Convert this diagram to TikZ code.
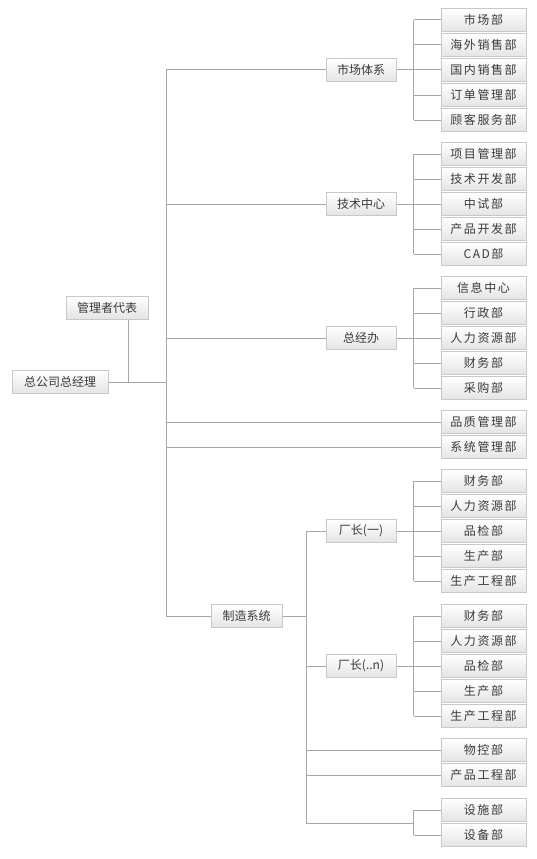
\documentclass[tikz,border=0pt]{standalone}
\usepackage{fontspec}
\newfontfamily\cjk{Noto Sans CJK SC}
\newfontfamily\cjkwide[LetterSpace=13]{Noto Sans CJK SC}
\usetikzlibrary{calc}
\definecolor{boxborder}{HTML}{C8C8C8}
\definecolor{boxbot}{HTML}{E4E4E4}
\definecolor{txt}{HTML}{3A3A3A}
\definecolor{lncol}{HTML}{A6A6A6}
\tikzset{
  box/.style={draw=boxborder, line width=1pt, top color=white, bottom color=boxbot,
    minimum height=23pt, inner sep=0pt, text=txt, font=\fontsize{12pt}{12pt}\cjk},
  leaf/.style={box, minimum width=85pt, font=\fontsize{12pt}{12pt}\cjkwide},
  mid/.style={box, minimum width=70pt},
  ln/.style={draw=lncol, line width=1pt}
}
\begin{document}
\begin{tikzpicture}[x=1pt,y=-1pt]
\useasboundingbox (0,0) rectangle (536,859);
% left
\node[box, minimum width=96pt] (ceo) at (60,382) {总公司总经理};
\node[box, minimum width=82pt] (rep) at (107,307.5) {管理者代表};
% middle
\node[mid] (sc) at (361,70) {市场体系};
\node[mid] (js) at (361,204) {技术中心};
\node[mid] (zj) at (361,338) {总经办};
\node[box, minimum width=71pt] (zz) at (246.5,616) {制造系统};
\node[mid] (c1) at (361,531) {厂长(一)};
\node[mid] (cn) at (361,666) {厂长(..n)};
% leaves
\node[leaf] (a1) at (483.5,20) {市场部};
\node[leaf] (a2) at (483.5,45) {海外销售部};
\node[leaf] (a3) at (483.5,70) {国内销售部};
\node[leaf] (a4) at (483.5,95) {订单管理部};
\node[leaf] (a5) at (483.5,120) {顾客服务部};
\node[leaf] (b1) at (483.5,154) {项目管理部};
\node[leaf] (b2) at (483.5,179) {技术开发部};
\node[leaf] (b3) at (483.5,204) {中试部};
\node[leaf] (b4) at (483.5,229) {产品开发部};
\node[leaf] (b5) at (483.5,254) {CAD部};
\node[leaf] (d1) at (483.5,288) {信息中心};
\node[leaf] (d2) at (483.5,313) {行政部};
\node[leaf] (d3) at (483.5,338) {人力资源部};
\node[leaf] (d4) at (483.5,363) {财务部};
\node[leaf] (d5) at (483.5,388) {采购部};
\node[leaf] (q1) at (483.5,422) {品质管理部};
\node[leaf] (q2) at (483.5,447) {系统管理部};
\node[leaf] (e1) at (483.5,481) {财务部};
\node[leaf] (e2) at (483.5,506) {人力资源部};
\node[leaf] (e3) at (483.5,531) {品检部};
\node[leaf] (e4) at (483.5,556) {生产部};
\node[leaf] (e5) at (483.5,581) {生产工程部};
\node[leaf] (f1) at (483.5,616) {财务部};
\node[leaf] (f2) at (483.5,641) {人力资源部};
\node[leaf] (f3) at (483.5,666) {品检部};
\node[leaf] (f4) at (483.5,691) {生产部};
\node[leaf] (f5) at (483.5,716) {生产工程部};
\node[leaf] (g1) at (483.5,750) {物控部};
\node[leaf] (g2) at (483.5,775) {产品工程部};
\node[leaf] (h1) at (483.5,810) {设施部};
\node[leaf] (h2) at (483.5,835) {设备部};
% coordinates
\coordinate (trunk) at (166,0);
\coordinate (br) at (413.5,0);
\coordinate (mtrunk) at (306.5,0);
\coordinate (repl) at ($(rep.south)+(21,0)$);
% CEO / rep
\draw[ln] (ceo.east) -- (ceo.east -| trunk);
\draw[ln] (repl) -- (repl |- ceo.east);
% trunk
\draw[ln] (sc.west) -- (sc.west -| trunk) -- (zz.west -| trunk) -- (zz.west);
\draw[ln] (js.west -| trunk) -- (js.west);
\draw[ln] (zj.west -| trunk) -- (zj.west);
\draw[ln] (q1.west -| trunk) -- (q1.west);
\draw[ln] (q2.west -| trunk) -- (q2.west);
% groups
\foreach \p/\g in {sc/a, js/b, zj/d, c1/e, cn/f}{
  \draw[ln] (\p.east) -- (\p.east -| br);
  \draw[ln] (\g1.west -| br) -- (\g5.west -| br);
  \foreach \i in {1,...,5}{ \draw[ln] (\g\i.west -| br) -- (\g\i.west); }
}
% manufacturing trunk
\coordinate (hb2) at (413.5,823);
\draw[ln] (zz.east) -- (zz.east -| mtrunk);
\draw[ln] (c1.west) -- (c1.west -| mtrunk) -- (hb2 -| mtrunk) -- (hb2);
\draw[ln] (cn.west -| mtrunk) -- (cn.west);
\draw[ln] (g1.west -| mtrunk) -- (g1.west);
\draw[ln] (g2.west -| mtrunk) -- (g2.west);
\draw[ln] (h1.west -| br) -- (h2.west -| br);
\draw[ln] (h1.west -| br) -- (h1.west);
\draw[ln] (h2.west -| br) -- (h2.west);
\end{tikzpicture}
\end{document}
